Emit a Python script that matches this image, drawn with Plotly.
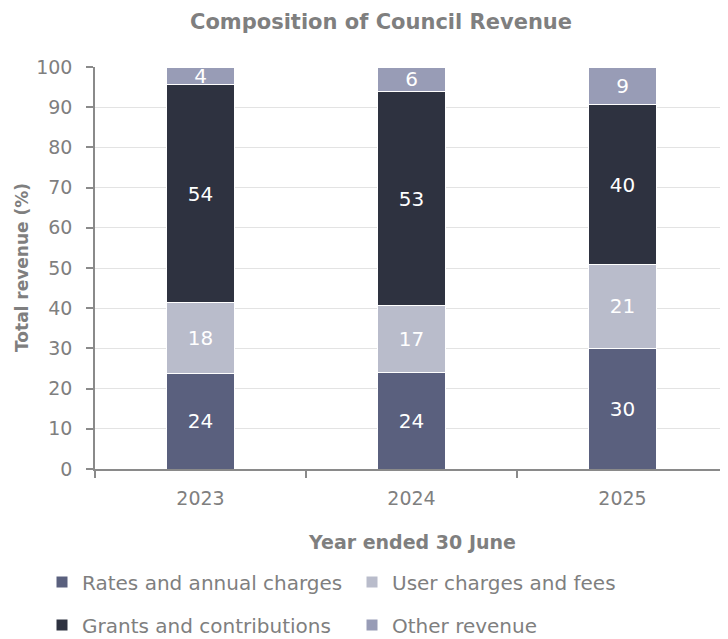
import plotly.graph_objects as go

years = ["2023", "2024", "2025"]
rates = [23.8, 24.0, 30.1]
user_charges = [17.6, 16.6, 20.7]
grants = [54.2, 53.2, 39.8]
other = [4.4, 6.2, 9.4]

series_names = ["Rates and annual charges", "User charges and fees",
                "Grants and contributions", "Other revenue"]
series_values = [rates, user_charges, grants, other]
series_colors = ["#5a607e", "#b9bccb", "#2e3240", "#989cb6"]

FONT = "DejaVu Sans"
GRAY = "#7f7f7f"
W, H = 728, 639

# legend slots in layout pixels: (text-left x, row centre y)
legend_slots = [(74, 574), (384, 574), (74, 617), (384, 617)]

fig = go.Figure()
layout_legends = {}
for i, (name, vals, color) in enumerate(zip(series_names, series_values, series_colors)):
    lg = "legend" if i == 0 else f"legend{i+1}"
    fig.add_trace(go.Bar(
        x=years, y=vals, name=name,
        marker=dict(color=color, line=dict(color="white", width=1)),
        texttemplate="%{y:.0f}", textposition="inside",
        insidetextanchor="middle", textangle=0,
        textfont=dict(color="white", size=20, family=FONT),
        legend=lg,
    ))
    tx, ty = legend_slots[i]
    layout_legends[lg] = dict(
        orientation="h", xref="container", yref="container",
        x=(tx - 40) / W, xanchor="left", y=1 - ty / H, yanchor="middle",
        font=dict(size=20, color=GRAY, family=FONT),
        bgcolor="rgba(0,0,0,0)", itemwidth=30,
    )

fig.update_layout(
    width=W, height=H,
    barmode="stack", bargap=0.678,
    plot_bgcolor="white", paper_bgcolor="white",
    margin=dict(l=87, r=8, t=59, b=178, autoexpand=False),
    font=dict(family=FONT, color=GRAY),
    uniformtext=dict(minsize=20, mode="show"),
    title=dict(text="<b>Composition of Council Revenue</b>",
               x=373 / W, xanchor="center", xref="container",
               y=1 - 14 / H, yanchor="middle", yref="container",
               font=dict(size=21, color=GRAY, family=FONT)),
    showlegend=True,
    **layout_legends,
)

fig.add_annotation(text="<b>Total revenue (%)</b>", textangle=-90,
                   xref="paper", yref="paper", x=-0.1153, y=0.5,
                   xanchor="center", yanchor="middle", showarrow=False,
                   font=dict(size=17, color=GRAY, family=FONT))
fig.add_annotation(text="<b>Year ended 30 June</b>",
                   xref="paper", yref="paper", x=0.5, y=-0.1816,
                   xanchor="center", yanchor="middle", showarrow=False,
                   font=dict(size=19, color=GRAY, family=FONT))

fig.update_yaxes(
    range=[0, 100], dtick=10, showgrid=True, gridcolor="#e3e3e3", gridwidth=1,
    showline=True, linecolor="#8a8a8a", linewidth=1.5,
    ticks="outside", ticklen=7, tickcolor="#8a8a8a", tickwidth=1.5,
    ticklabelstandoff=10,
    tickfont=dict(size=19, color=GRAY, family=FONT),
    zeroline=False, automargin=False,
)
fig.update_xaxes(
    showline=True, linecolor="#8a8a8a", linewidth=1.5,
    ticks="outside", tickson="boundaries", ticklen=7, tickcolor="#8a8a8a", tickwidth=1.5,
    ticklabelstandoff=11,
    tickfont=dict(size=19, color=GRAY, family=FONT),
    automargin=False,
)

fig.write_html("out.html")
